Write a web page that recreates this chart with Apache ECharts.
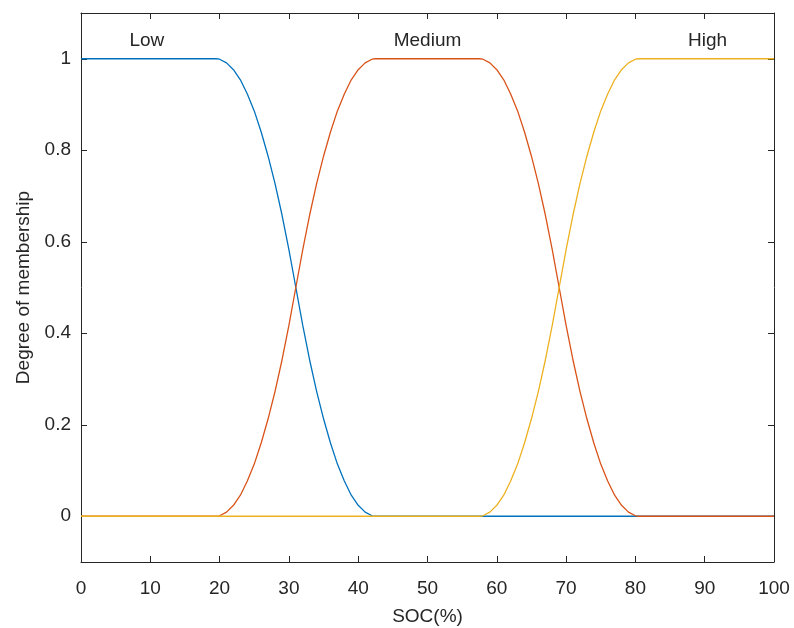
<!DOCTYPE html>
<html>
<head>
<meta charset="utf-8">
<script src="https://cdn.jsdelivr.net/npm/echarts@6/dist/echarts.min.js"></script>
<style>html,body{margin:0;padding:0;background:#fff}#c{width:794px;height:628px}</style>
</head>
<body>
<div id="c"></div>
<script>
var xs = [0,19.5,20,21,22,23,24,25,26,27,28,29,30,31,32,33,34,35,36,37,38,39,40,41,42,42.5,57.5,58,59,60,61,62,63,64,65,66,67,68,69,70,71,72,73,74,75,76,77,78,79,80,80.5,100];
var lowVals = [1,1,0.999,0.991,0.976,0.954,0.923,0.886,0.840,0.787,0.727,0.659,0.583,0.5,0.417,0.341,0.273,0.213,0.160,0.114,0.077,0.046,0.024,0.009,0.001,0,0,0,0,0,0,0,0,0,0,0,0,0,0,0,0,0,0,0,0,0,0,0,0,0,0,0];
var medVals = [0,0,0.001,0.009,0.024,0.046,0.077,0.114,0.160,0.213,0.273,0.341,0.417,0.5,0.583,0.659,0.727,0.787,0.840,0.886,0.923,0.954,0.976,0.991,0.999,1,1,0.999,0.991,0.976,0.954,0.923,0.886,0.840,0.787,0.727,0.659,0.583,0.5,0.417,0.341,0.273,0.213,0.160,0.114,0.077,0.046,0.024,0.009,0.001,0,0];
var highVals = [0,0,0,0,0,0,0,0,0,0,0,0,0,0,0,0,0,0,0,0,0,0,0,0,0,0,0,0.001,0.009,0.024,0.046,0.077,0.114,0.160,0.213,0.273,0.341,0.417,0.5,0.583,0.659,0.727,0.787,0.840,0.886,0.923,0.954,0.976,0.991,0.999,1,1];
var setNames = ['Low','Medium','High'];
var setLabelX = [9.5, 50, 90.4];
var setLabelY = [1.04, 1.04, 1.04];
var yTicks = [0,0.2,0.4,0.6,0.8,1];

function pairs(x, y){ return x.map(function(v,i){ return [v, y[i]]; }); }

var txt = '#262626';
var font = 'Liberation Sans, Arial, sans-serif';
var fs = 19;
var chart = echarts.init(document.getElementById('c'));
var axisLine = {show:true, onZero:false, lineStyle:{color:txt, width:1}};
var tick = {show:true, inside:true, length:6, lineStyle:{color:txt}};
chart.setOption({
  animation:false,
  grid:{left:81, top:13, right:20, bottom:66, outerBoundsMode:'none', containLabel:false},
  xAxis:[{
    type:'value', min:0, max:100, interval:10, position:'bottom',
    axisLine:axisLine, axisTick:tick, splitLine:{show:false},
    axisLabel:{color:txt, fontSize:fs, fontFamily:font, margin:17},
    name:'SOC(%)', nameLocation:'middle', nameGap:45,
    nameTextStyle:{color:txt, fontSize:fs, fontFamily:font}
  },{
    type:'value', min:0, max:100, interval:10, position:'top',
    axisLine:axisLine, axisTick:tick, splitLine:{show:false},
    axisLabel:{show:false}
  }],
  yAxis:[{
    type:'value', min:-0.1, max:1.1, position:'left',
    axisLine:axisLine,
    axisTick:{show:true, inside:true, length:6, lineStyle:{color:txt}, customValues:yTicks},
    axisLabel:{color:txt, fontSize:fs, fontFamily:font, margin:10, customValues:yTicks},
    splitLine:{show:false},
    name:'Degree of membership', nameLocation:'middle', nameGap:45, nameRotate:90,
    nameTextStyle:{color:txt, fontSize:fs, fontFamily:font}
  },{
    type:'value', min:-0.1, max:1.1, position:'right',
    axisLine:axisLine,
    axisTick:{show:true, inside:true, length:6, lineStyle:{color:txt}, customValues:yTicks},
    axisLabel:{show:false, customValues:yTicks},
    splitLine:{show:false}
  }],
  series:[
    {type:'line', name:'Low', data:pairs(xs,lowVals), showSymbol:false, symbol:'none',
     lineStyle:{color:'#0072BD', width:1.3}, z:2},
    {type:'line', name:'Medium', data:pairs(xs,medVals), showSymbol:false, symbol:'none',
     lineStyle:{color:'#D95319', width:1.3}, z:3},
    {type:'line', name:'High', data:pairs(xs,highVals), showSymbol:false, symbol:'none',
     lineStyle:{color:'#EDB120', width:1.3}, z:4},
    {type:'scatter', symbolSize:0, silent:true, z:5, itemStyle:{opacity:1},
     data:setNames.map(function(n,i){ return {value:[setLabelX[i], setLabelY[i]], name:n}; }),
     label:{show:true, position:'inside', formatter:'{b}', color:txt, fontSize:fs, fontFamily:font}}
  ]
});
</script>
</body>
</html>
